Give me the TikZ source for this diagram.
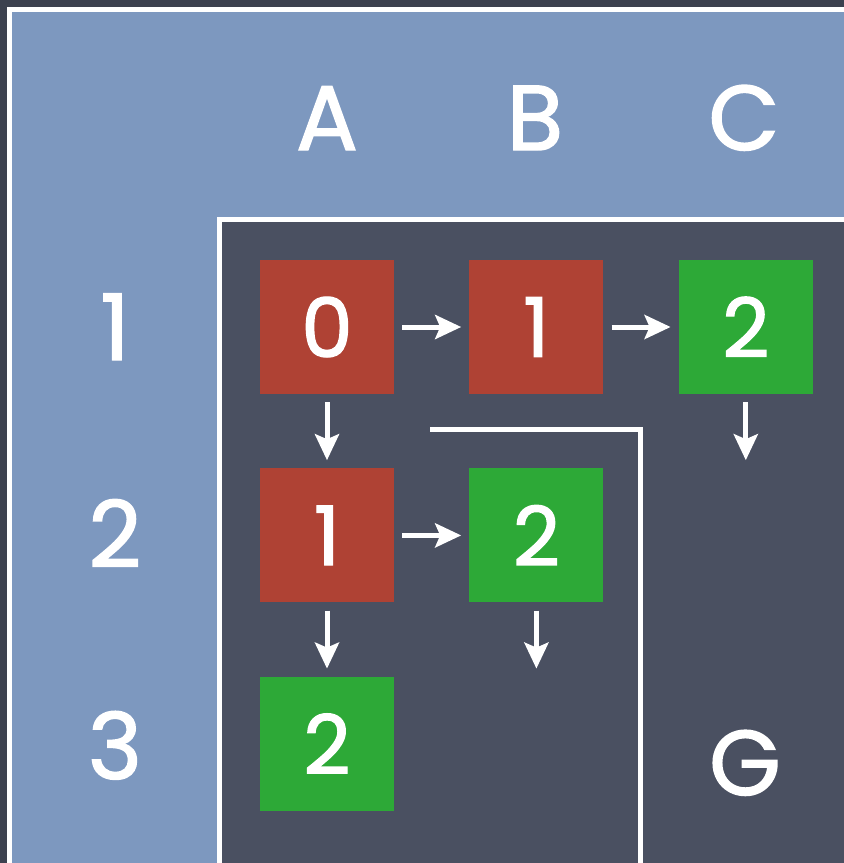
\documentclass[tikz,border=0pt]{standalone}
\usepackage{fontspec}
\setmainfont{Poppins}
\newfontfamily\chalk{Poppins}[BoldFont={Poppins}, BoldFeatures={FakeBold=1.6}]
\usetikzlibrary{arrows.meta,positioning}
\definecolor{slate}{HTML}{3C414F}
\definecolor{paneblue}{HTML}{7D98BF}
\definecolor{boardgrey}{HTML}{4A5061}
\definecolor{cellred}{HTML}{AF4234}
\definecolor{cellgreen}{HTML}{2DA937}
\tikzset{
    frame line/.style={
        draw=white,
        line width=5pt,
        line join=miter
    },
    cell/.style={
        minimum size=134pt,
        inner sep=0pt,
        text=white,
        font=\chalk\bfseries\fontsize{82}{82}\selectfont
    },
    red cell/.style={cell, fill=cellred},
    green cell/.style={cell, fill=cellgreen},
    heading/.style={
        text=white,
        anchor=base,
        inner sep=0pt,
        font=\chalk\bfseries\fontsize{92}{92}\selectfont
    },
    move/.style={
        draw=white,
        line width=5pt,
        -{Stealth[length=26pt,width=24pt,inset=5pt]},
        shorten <=8pt,
        shorten >=8pt
    }
}
\begin{document}
\begin{tikzpicture}[x=1pt, y=-1pt, node distance=74pt and 75pt]
    \useasboundingbox (0,0) rectangle (844,863);
    \clip (0,0) rectangle (844,863);
    \fill[slate] (0,0) rectangle (844,863);
    % outer pane and board
    \path[frame line, fill=paneblue] (9.5,9.5) rectangle (900,900);
    \path[frame line, fill=boardgrey] (219.5,219.5) rectangle (900,900);
    % headings
    \foreach \col/\x in {A/327,B/535,C/744}
        \node[heading] (col\col) at (\x,150) {\col};
    \foreach \row/\y in {1/360,2/567,3/779}
        \node[heading] (row\row) at (115,\y) {\row};
    \node[heading] (goal) at (745,795) {G};
    % cells
    \node[red cell] (a1) at (327,327) {0};
    \node[red cell, right=of a1] (b1) {1};
    \node[green cell, right=of b1] (c1) {2};
    \node[red cell, below=of a1] (a2) {1};
    \node[green cell, right=of a2] (b2) {2};
    \node[green cell, below=of a2] (a3) {2};
    \coordinate[below=of c1] (c2);
    \coordinate[below=of b2] (b3);
    % moves
    \draw[move] (a1) -- (b1);
    \draw[move] (b1) -- (c1);
    \draw[move] (a2) -- (b2);
    \draw[move] (a1) -- (a2);
    \draw[move] (a2) -- (a3);
    \draw[move] (c1.south) -- (c2);
    \draw[move] (b2.south) -- (b3);
    % boundary
    \draw[frame line] (430,429.5) -| (640,880);
\end{tikzpicture}
\end{document}
